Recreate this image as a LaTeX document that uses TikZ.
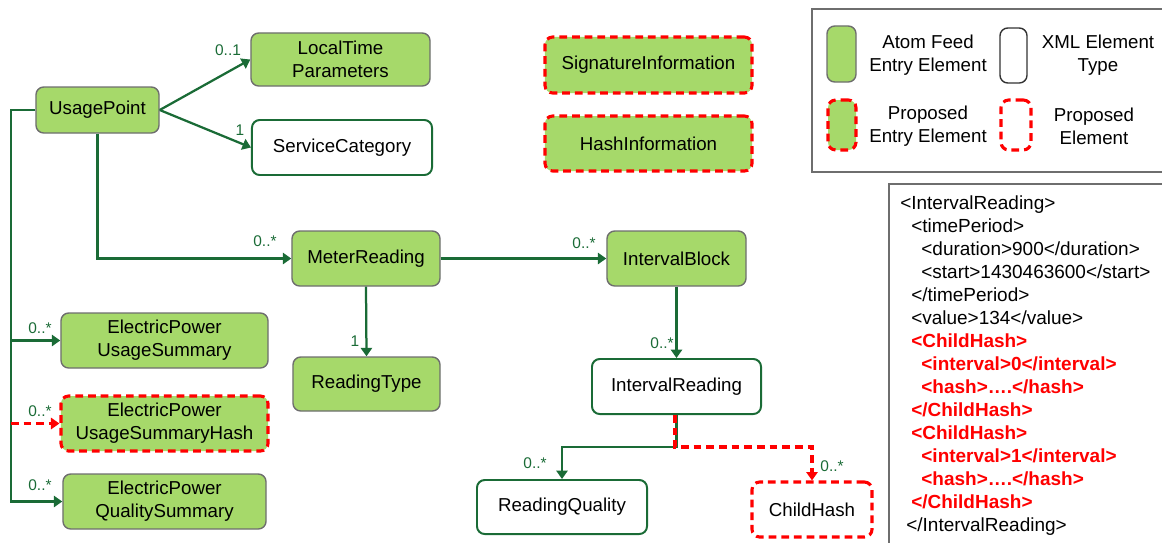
\documentclass[tikz,border=0pt]{standalone}
\usepackage{fontspec}
\setmainfont{Liberation Sans}
\usetikzlibrary{arrows.meta}
\definecolor{feedgreen}{RGB}{166,217,106}
\definecolor{linkgreen}{RGB}{26,107,54}
\definecolor{boxgray}{RGB}{110,110,110}

\begin{document}
\begin{tikzpicture}
[x=0.025cm, y=-0.025cm,
entry/.style={rectangle, rounded corners=5.5pt, draw=boxgray, fill=feedgreen, line width=1pt, minimum height=1.375cm, inner sep=2pt, align=center, font=\fontsize{13.3}{16.5}\selectfont},
xmltype/.style={entry, draw=linkgreen, fill=white, line width=1.4pt},
proposed/.style={entry, draw=red, line width=2.2pt, dash pattern=on 5.5pt off 3.5pt},
proposedxml/.style={proposed, fill=white},
classical/.style={line width=1.6pt, linkgreen, -{Triangle[length=6pt,width=8pt]}},
hashlink/.style={classical, red, line width=2.4pt, dash pattern=on 5.5pt off 3.5pt},
mult/.style={linkgreen, inner sep=0pt, font=\fontsize{11}{13}\selectfont},
legend/.style={inner sep=0pt, align=center, font=\fontsize{13.3}{16.4}\selectfont}]
\useasboundingbox (0,0) rectangle (1162,542);

% entry elements of the feed
\node[entry, minimum width=3.075cm, minimum height=1.15cm] (up) at (97.5,110) {UsagePoint};
\node[entry, minimum width=4.475cm, minimum height=1.325cm] (ltp) at (340.5,59.5) {LocalTime\\Parameters};
\node[xmltype, minimum width=4.5cm] (sc) at (342,147.5) {ServiceCategory};
\node[entry, minimum width=3.7cm] (mr) at (366,258.5) {MeterReading};
\node[entry, minimum width=3.475cm] (ib) at (676.5,258.5) {IntervalBlock};
\node[entry, minimum width=3.675cm, minimum height=1.35cm] (rt) at (366.5,384) {ReadingType};
\node[entry, minimum width=5.175cm] (epus) at (164.5,340.5) {ElectricPower\\UsageSummary};
\node[proposed, minimum width=5.175cm] (epush) at (164.5,423.5) {ElectricPower\\UsageSummaryHash};
\node[entry, minimum width=5.075cm] (epqs) at (164.5,501.5) {ElectricPower\\QualitySummary};
\node[xmltype, minimum width=4.225cm] (ir) at (676.5,386.5) {IntervalReading};
\node[xmltype, minimum width=4.25cm, minimum height=1.35cm] (rq) at (562,507) {ReadingQuality};
\node[proposedxml, minimum width=3cm] (ch) at (812,509.5) {ChildHash};

% proposed standalone entries
\node[proposed, minimum width=5.175cm, minimum height=1.4cm] (sig) at (648.5,65) {SignatureInformation};
\node[proposed, minimum width=5.175cm] (hash) at (648.5,143.5) {HashInformation};

% connectors
\coordinate (trunk) at (11,110);
\coordinate (split) at (676.5,447);

\draw[classical] (up.east) -- (ltp.west);
\draw[classical] (up.east) -- (sc.west);
\draw[classical] (up.south) |- (mr.west);
\draw[classical] (mr.east) -- (ib.west);
\draw[classical] (mr.south) -- (rt.north);
\draw[classical] (ib.south) -- (ir.north);
\draw[classical] (ir.south) -- (split) -| (rq.north);
\draw[hashlink] ([xshift=-1pt]ir.south) -- ([xshift=-1pt]split) -| (ch.north);

\draw[classical] (up.west) -- (trunk) |- (epqs.west);
\draw[classical] (trunk |- epus.west) -- (epus.west);
\draw[hashlink] (trunk |- epush.west) -- (epush.west);

% multiplicities
\node[mult] (m1) at (228,50) {0..1};
\node[mult] (m2) at (240,130) {1};
\node[mult] (m3) at (265,241) {0..*};
\node[mult] (m4) at (355,341) {1};
\node[mult] (m5) at (584,243) {0..*};
\node[mult] (m6) at (662,343) {0..*};
\node[mult] (m7) at (535,463) {0..*};
\node[mult] (m8) at (832,466) {0..*};
\node[mult] (m9) at (40,328) {0..*};
\node[mult] (m10) at (40,411) {0..*};
\node[mult] (m11) at (40,485) {0..*};

% legend
\draw[boxgray, line width=1pt] (812,9) rectangle (1175,172);
\node[entry, minimum width=0.725cm, minimum height=1.4cm, inner sep=0pt] (lgfeed) at (841.5,54) {};
\node[entry, draw=black!80, fill=white, minimum width=0.675cm, minimum height=1.375cm, inner sep=0pt] (lgxml) at (1013.5,55.5) {};
\node[proposed, minimum width=0.7cm, minimum height=1.25cm, inner sep=0pt] (lgentry) at (842,125) {};
\node[proposedxml, minimum width=0.75cm, minimum height=1.25cm, inner sep=0pt] (lgelem) at (1016,125) {};
\node[legend] (tfeed) at (928,55) {Atom Feed\\Entry Element};
\node[legend] (txml) at (1098,55) {XML Element\\Type};
\node[legend] (tentry) at (928,126) {Proposed\\Entry Element};
\node[legend] (telem) at (1094,126) {Proposed\\Element};

% xml sample
\draw[boxgray, line width=1pt] (889,184) rectangle (1175,560);
\node[anchor=north west, inner sep=0pt, align=left, font=\fontsize{13.5}{16.4}\selectfont] (xml) at (900,195) {%
<IntervalReading>\\
\hspace*{7.8pt}<timePeriod>\\
\hspace*{15pt}<duration>900</duration>\\
\hspace*{15pt}<start>1430463600</start>\\
\hspace*{7.8pt}</timePeriod>\\
\hspace*{7.8pt}<value>134</value>\\
{\color{red}\bfseries\hspace*{7.8pt}<ChildHash>}\\
{\color{red}\bfseries\hspace*{15pt}<interval>0</interval>}\\
{\color{red}\bfseries\hspace*{15pt}<hash>….</hash>}\\
{\color{red}\bfseries\hspace*{7.8pt}</ChildHash>}\\
{\color{red}\bfseries\hspace*{7.8pt}<ChildHash>}\\
{\color{red}\bfseries\hspace*{15pt}<interval>1</interval>}\\
{\color{red}\bfseries\hspace*{15pt}<hash>….</hash>}\\
{\color{red}\bfseries\hspace*{7.8pt}</ChildHash>}\\
\hspace*{4.3pt}</IntervalReading>};

\end{tikzpicture}
\end{document}
